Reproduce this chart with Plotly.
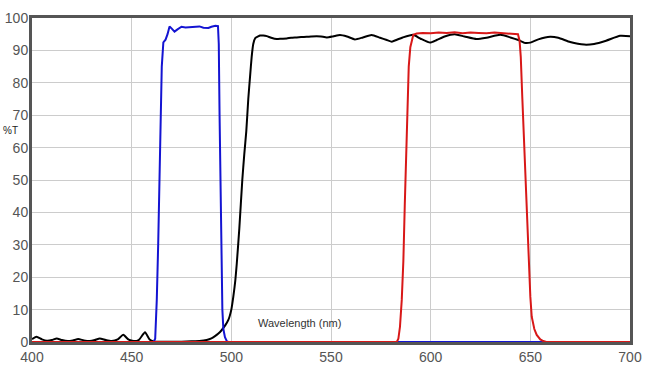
import plotly.graph_objects as go

# Black curve (long-pass)
black_wl = [400, 402.3, 405, 407.5, 410, 412.4, 415, 418, 420.5, 423.2, 426, 429, 431.5, 434, 437, 440,
            443, 445.8, 448.5, 451, 453.5, 456.7, 459, 461, 465, 470, 475, 480, 484, 487.6, 490, 491.8,
            493.5, 495.2, 497, 498.5, 500, 501, 502, 502.7, 504, 505.5, 506.5, 507.5, 508.5, 509.4, 510.2,
            511, 512, 513.4, 514.4, 516, 517.8, 520, 522.8, 525, 527.8, 530, 532.8, 535, 537.8, 540, 542.8,
            545, 547.9, 551, 554.5, 558, 562, 566, 570.4, 574.6, 578, 580.5, 583, 586, 591.2, 595, 599.7,
            603, 607, 612, 617, 623, 628, 635, 640, 644, 647.4, 650, 654, 659.9, 664, 670, 677, 682, 688,
            695, 700]
black_t = [0.9, 1.6, 0.8, 0.4, 0.6, 1.1, 0.6, 0.3, 0.5, 0.9, 0.5, 0.3, 0.6, 1.1, 0.6, 0.3,
           0.8, 2.2, 0.7, 0.3, 0.6, 3.0, 0.8, 0.2, 0.1, 0.1, 0.1, 0.2, 0.3, 0.6, 1.1, 1.8,
           2.6, 3.7, 5.2, 6.8, 10, 14, 19, 24, 35, 50, 58, 65, 75, 82, 88,
           92, 93.8, 94.3, 94.6, 94.6, 94.4, 93.9, 93.5, 93.6, 93.7, 93.9, 94.0, 94.1, 94.2, 94.3, 94.4,
           94.3, 94.0, 94.3, 94.75, 94.3, 93.4, 94.0, 94.75, 93.9, 93.2, 92.7, 93.3, 94.0, 94.8, 93.6, 92.4,
           93.2, 94.3, 95.0, 94.3, 93.5, 93.9, 94.8, 94.0, 93.2, 92.3, 92.4, 93.4, 94.2, 93.9, 92.6, 91.8,
           92.0, 93.0, 94.5, 94.4]

# Blue curve (band-pass)
blue_wl = [400, 455, 461, 461.8, 462.6, 463.3, 464, 464.6, 465.1, 465.9, 467, 468, 469, 470, 471.5, 473,
           475, 477, 480, 482, 484, 486, 488.5, 490, 492, 493.3, 493.7, 494.1, 494.5, 495.0, 495.5, 496.0,
           496.8, 497.8, 498.5, 700]
blue_t = [0, 0, 0, 1, 13, 30, 55, 75, 85, 92.5, 93.3, 95, 97.4, 96.8, 95.8, 96.5,
          97.3, 97.1, 97.3, 97.2, 97.4, 97.0, 96.9, 97.3, 97.6, 97.5, 92, 70, 50, 28, 10, 4,
          1.5, 0.2, 0, 0]

# Red curve (band-pass)
red_wl = [400, 583, 583.8, 584.6, 585.5, 586.3, 587, 587.7, 588.4, 589, 589.8, 590.6, 591.3, 593, 596,
          600, 604, 608, 612, 616, 620, 624, 628, 632, 636, 640, 643.8, 644.6, 645.2, 646, 647, 648, 649,
          650, 650.7, 652, 653.2, 655, 656.5, 658, 700]
red_t = [0, 0, 1, 4.7, 13, 25, 42, 60, 75, 85, 91, 93.5, 94.8, 95.2, 95.4,
         95.3, 95.5, 95.4, 95.6, 95.3, 95.5, 95.4, 95.3, 95.5, 95.4, 95.3, 95.0, 93, 88, 75, 60, 42, 25,
         14, 7.8, 4, 2.2, 0.8, 0.3, 0, 0]

x_ticks = [400, 450, 500, 550, 600, 650, 700]
y_ticks = [0, 10, 20, 30, 40, 50, 60, 70, 80, 90, 100]

fig = go.Figure()
fig.add_trace(go.Scatter(x=black_wl, y=black_t, mode="lines", line=dict(color="#000000", width=2, shape="spline", smoothing=0.5), cliponaxis=False))
fig.add_trace(go.Scatter(x=blue_wl, y=blue_t, mode="lines", line=dict(color="#1414d2", width=2), cliponaxis=False))
fig.add_trace(go.Scatter(x=red_wl, y=red_t, mode="lines", line=dict(color="#d81818", width=2), cliponaxis=False))

axis_common = dict(showline=True, linecolor="#555555", linewidth=3, mirror=True,
                   showgrid=True, gridcolor="#cccccc", gridwidth=1, zeroline=False,
                   tickfont=dict(family="Liberation Sans, Arial", size=14, color="#555555"),
                   layer="below traces", ticks="", automargin=False)
fig.update_xaxes(range=[400, 700], tickvals=x_ticks, ticktext=[str(v) for v in x_ticks], **axis_common)
fig.update_yaxes(range=[0, 100], tickvals=y_ticks, ticktext=[str(v) for v in y_ticks],
                 ticklabelstandoff=-2, **axis_common)

fig.add_annotation(text="%T", xref="paper", yref="paper", x=-0.052, y=0.652, xanchor="left", yanchor="middle",
                   showarrow=False, font=dict(family="Liberation Sans, Arial", size=10, color="#222222"))
fig.add_annotation(text="Wavelength (nm)", x=0.375, y=0.058, xref="paper", yref="paper", xanchor="left",
                   yanchor="middle", showarrow=False, font=dict(family="Liberation Sans, Arial", size=11, color="#333333"))

fig.update_layout(width=658, height=375, margin=dict(l=32, r=28, t=18, b=33),
                  plot_bgcolor="white", paper_bgcolor="white", showlegend=False)

fig.write_html("out.html")
